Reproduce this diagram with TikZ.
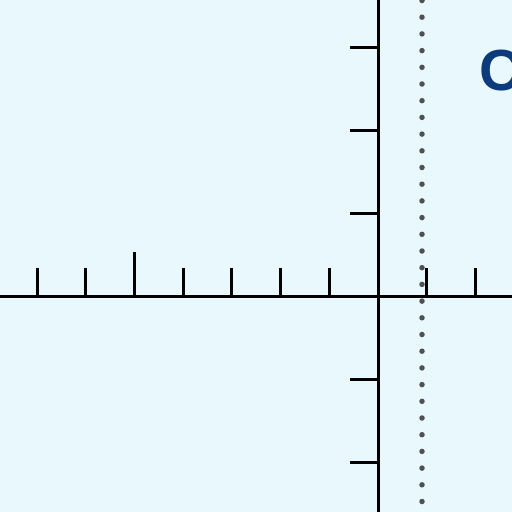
\documentclass[tikz,border=0pt]{standalone}
\usepackage{fontspec}
\setsansfont{Liberation Sans}
\usepackage{tikz}
\usetikzlibrary{calc}
\definecolor{bgcyan}{RGB}{232,248,252}
\definecolor{labelblue}{RGB}{12,58,122}
\definecolor{dotgray}{RGB}{80,80,80}

\begin{document}
\begin{tikzpicture}[
    x=1pt, y=-1pt,
    axis/.style={line width=3pt, black},
    tick/.style={line width=3pt, black},
    guide/.style={line width=5.5pt, dotgray, line cap=round, dash pattern=on 0pt off 16.7pt}
]
\fill[bgcyan] (0,0) rectangle (512,512);
\useasboundingbox (0,0) rectangle (512,512);

\coordinate (origin) at (378,296);
\coordinate (xleft) at (0,296);
\coordinate (xright) at (512,296);
\coordinate (ytop) at (378,0);
\coordinate (ybottom) at (378,512);
\coordinate (gtop) at (422,0.5);
\coordinate (gbottom) at (422,512);

% axes
\draw[axis] (xleft) -- (xright);
\draw[axis] (ytop) -- (ybottom);

% ticks on the horizontal axis
\foreach \i in {-7,-6,-4,-3,-2,-1,1,2}
    \draw[tick] ($(origin)+(48.7*\i,0)$) -- ++(0,-28);
\draw[tick] ($(origin)+(48.7*-5,0)$) -- ++(0,-44);

% ticks on the vertical axis
\foreach \k in {-3,-2,-1,1,2}
    \draw[tick] ($(origin)+(0,83*\k)$) -- ++(-28,0);

% dotted guide
\draw[guide] (gtop) -- (gbottom);

\node[anchor=west, inner sep=0pt, text=labelblue, font=\sffamily\bfseries\fontsize{58}{60}\selectfont] (clabel) at (479,71) {C};
\end{tikzpicture}
\end{document}
